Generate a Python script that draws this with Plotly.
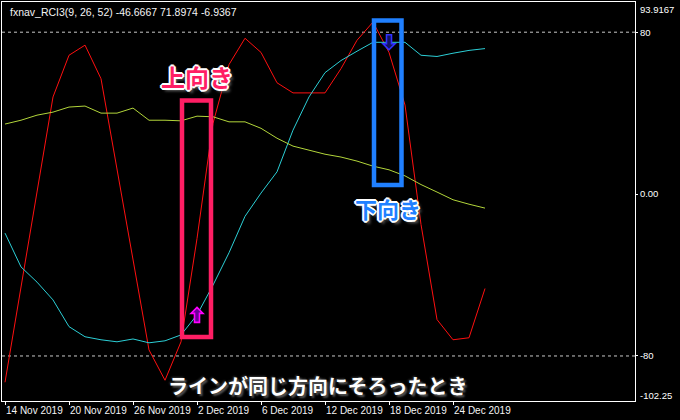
import plotly.graph_objects as go

# ---------------- data ----------------
dates = ["14 Nov 2019", "15 Nov 2019", "18 Nov 2019", "19 Nov 2019", "20 Nov 2019",
         "21 Nov 2019", "22 Nov 2019", "25 Nov 2019", "26 Nov 2019", "27 Nov 2019",
         "28 Nov 2019", "29 Nov 2019", "2 Dec 2019", "3 Dec 2019", "4 Dec 2019",
         "5 Dec 2019", "6 Dec 2019", "9 Dec 2019", "10 Dec 2019", "11 Dec 2019",
         "12 Dec 2019", "13 Dec 2019", "16 Dec 2019", "17 Dec 2019", "18 Dec 2019",
         "19 Dec 2019", "20 Dec 2019", "23 Dec 2019", "24 Dec 2019", "25 Dec 2019",
         "26 Dec 2019"]
tick_dates = ["14 Nov 2019", "20 Nov 2019", "26 Nov 2019", "2 Dec 2019",
              "6 Dec 2019", "12 Dec 2019", "18 Dec 2019", "24 Dec 2019"]

rci9 = [-93, -46, 1, 48, 68.6, 73.6, 57, 12, -32, -77, -92, -73, -22, 35, 64, 77,
        70, 55, 50, 50, 50, 62, 76, 85, 70, 44, -15, -62, -72, -71, -46.6667]
rci26 = [-19.3, -36, -43.5, -52.3, -65.5, -70.5, -72, -73, -71.6, -73.5, -72.5,
         -69.6, -59.7, -45, -29, -11, 0.5, 11, 31.6, 48, 60, 66, 70.6, 75, 75, 75,
         68.6, 68, 69.6, 71, 71.8974]
rci52 = [34.6, 36.5, 39, 40.5, 43, 43.5, 40, 40, 42.5, 36.5, 36.5, 36.2, 38.5, 38.2,
         35.7, 35.7, 32.5, 27.6, 23.7, 21.7, 19.7, 18.3, 16.3, 13.8, 12, 9, 4.7, 1,
         -2.8, -5, -6.9367]

levels = [80, -80]
ytick_vals = [80, 0, -80]
ytick_text = ["80", "0.00", "-80"]
y_min, y_max = -102.25, 93.9167
title_text = "fxnav_RCI3(9, 26, 52) -46.6667 71.8974 -6.9367"
up_date, down_date = "2 Dec 2019", "18 Dec 2019"
label_up, label_down = "上向き", "下向き"
caption = "ラインが同じ方向にそろったとき"

# ---------------- layout helpers ----------------
W, H = 680, 420
L, R, T, B = 2, 45, 2, 19          # margins (px)
PW, PH = W - L - R, H - T - B


def px(x):
    return (x - L) / PW


def py(y):
    return (H - B - y) / PH


fig = go.Figure()
fig.add_trace(go.Scatter(x=dates, y=rci9, mode="lines",
                         line=dict(color="#FF1010", width=1), showlegend=False))
fig.add_trace(go.Scatter(x=dates, y=rci26, mode="lines",
                         line=dict(color="#2CCFD6", width=1), showlegend=False))
fig.add_trace(go.Scatter(x=dates, y=rci52, mode="lines",
                         line=dict(color="#B2D53A", width=1), showlegend=False))

shapes = []
for lv in levels:
    shapes.append(dict(type="line", xref="paper", x0=0, x1=1, yref="y", y0=lv, y1=lv,
                       line=dict(color="#C8C8C8", width=1, dash="3px,3px"), layer="below"))

# arrow objects anchored at the RCI26 value of their bar (path in pixels)
UP_PATH = "M0,7.5 L6,1.5 L2.5,1.5 L2.5,-7.5 L-2.5,-7.5 L-2.5,1.5 L-6,1.5 Z"
DOWN_PATH = "M0,-7.5 L6,-1.5 L2.5,-1.5 L2.5,7.5 L-2.5,7.5 L-2.5,-1.5 L-6,-1.5 Z"
iu, idn = dates.index(up_date), dates.index(down_date)
shapes.append(dict(type="path", xref="x", yref="y", xsizemode="pixel", ysizemode="pixel",
                   xanchor=iu, yanchor=rci26[iu], path=UP_PATH,
                   fillcolor="#6A0098", line=dict(color="#FF00FF", width=1.6)))
shapes.append(dict(type="path", xref="x", yref="y", xsizemode="pixel", ysizemode="pixel",
                   xanchor=idn, yanchor=rci26[idn], path=DOWN_PATH,
                   fillcolor="#141460", line=dict(color="#3030FF", width=1.6)))

# highlight boxes
shapes.append(dict(type="rect", xref="paper", yref="paper",
                   x0=px(182), x1=px(211), y0=py(337), y1=py(100.5),
                   line=dict(color="#FF1E64", width=4.5)))
shapes.append(dict(type="rect", xref="paper", yref="paper",
                   x0=px(374), x1=px(401.5), y0=py(185), y1=py(20.5),
                   line=dict(color="#2080FF", width=4.5)))

axis_font = dict(family="Liberation Sans", size=9.5, color="#FFFFFF")
white_outline = ("1px 1px 0 #fff, -1px -1px 0 #fff, 1px -1px 0 #fff, -1px 1px 0 #fff, "
                 "2px 0 0 #fff, -2px 0 0 #fff, 0 2px 0 #fff, 0 -2px 0 #fff, 3px 3px 3px #666")
annotations = [
    dict(text=title_text, xref="paper", yref="paper", x=px(8), y=py(11.5),
         xanchor="left", yanchor="middle", showarrow=False,
         font=dict(family="Liberation Sans", size=10.5, color="#F4F4F4")),
    dict(text="93.9167", xref="paper", yref="paper", x=1, xshift=3, y=py(9),
         xanchor="left", yanchor="middle", showarrow=False, font=axis_font),
    dict(text="-102.25", xref="paper", yref="paper", x=1, xshift=3, y=py(395.5),
         xanchor="left", yanchor="middle", showarrow=False, font=axis_font),
    dict(text=label_up, xref="paper", yref="paper", x=px(197), y=py(76),
         xanchor="center", yanchor="middle", showarrow=False,
         font=dict(family="Noto Sans CJK JP", size=24, color="#FF1E64", weight="bold",
                   shadow=white_outline)),
    dict(text=label_down, xref="paper", yref="paper", x=px(388), y=py(208),
         xanchor="center", yanchor="middle", showarrow=False,
         font=dict(family="Noto Sans CJK JP", size=22, color="#2080FF", weight="bold",
                   shadow=white_outline)),
    dict(text=caption, xref="paper", yref="paper", x=px(318), y=py(385),
         xanchor="center", yanchor="middle", showarrow=False,
         font=dict(family="Noto Sans CJK JP", size=20, color="#FFFFFF", weight="bold",
                   shadow="2px 2px 2px #555, -1px -1px 2px #333")),
]

fig.update_layout(
    width=W, height=H,
    margin=dict(l=L, r=R, t=T, b=B, pad=0, autoexpand=False),
    paper_bgcolor="#000000", plot_bgcolor="#000000",
    shapes=shapes, annotations=annotations, showlegend=False,
    xaxis=dict(type="category", categoryorder="array", categoryarray=dates,
               range=[-0.1875, 39.375], showgrid=False, zeroline=False,
               showline=True, linecolor="#FFFFFF", linewidth=1, mirror=True,
               tickmode="array", tickvals=tick_dates, ticktext=tick_dates,
               ticks="outside", ticklen=3, tickcolor="#FFFFFF", tickangle=0,
               ticklabelposition="outside right", automargin=False,
               tickfont=dict(family="Liberation Sans", size=10, color="#F4F4F4")),
    yaxis=dict(range=[y_min, y_max + 1.0], side="right", showgrid=False, zeroline=False,
               showline=True, linecolor="#FFFFFF", linewidth=1, mirror=True,
               tickmode="array", tickvals=ytick_vals, ticktext=ytick_text,
               ticks="outside", ticklen=2, tickcolor="#FFFFFF", automargin=False,
               tickfont=axis_font),
)

fig.write_html("out.html", config={"displayModeBar": False},
               post_script="document.body.style.margin='0';"
                           "document.body.style.background='#000';")
